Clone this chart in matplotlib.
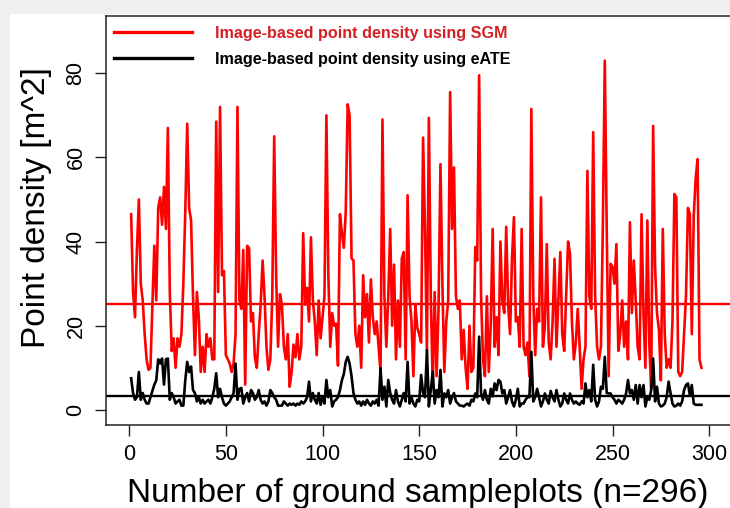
import matplotlib
matplotlib.use("Agg")
import matplotlib.pyplot as plt
from matplotlib import font_manager
from matplotlib.patches import Rectangle
from matplotlib.lines import Line2D

# data (plot index 1..296)
sgm_density = [
    46.5, 28, 22, 38, 50, 30, 26, 18, 12, 9.5,
    10, 25, 39, 26, 48, 50.5, 44, 53, 43, 67,
    28, 14, 17, 10, 17, 15, 18, 30, 47, 68,
    48, 45, 27, 13, 28, 22, 9, 15, 9, 18,
    15, 17, 12, 12, 68.5, 28, 72, 32, 33, 13,
    12, 11, 9, 11, 18, 72, 26, 24, 38, 6,
    39, 38.5, 21, 23, 12.5, 10, 18, 25, 35.5, 27,
    15, 9.5, 12, 27, 65, 32, 15, 27.5, 25, 15,
    12, 18, 5.5, 9, 15.5, 12.5, 18, 12, 15, 42,
    25, 29, 21, 41, 26, 21, 13, 26, 17, 22,
    27, 70, 32, 15, 23, 20, 20.5, 10.5, 46.5, 42,
    38.5, 47, 72.6, 70, 36, 35.5, 18, 15, 20, 10,
    32, 22, 27.5, 16, 31, 22, 18, 21, 15, 9,
    69, 27, 15, 27, 43, 20, 34.5, 12, 26, 15,
    36, 37.5, 12, 51, 27, 21, 8, 25, 19.5, 18,
    16, 64.7, 43, 14, 69.4, 27, 5.5, 28, 8, 24,
    58.4, 30, 9, 21, 26, 75.5, 43, 57.6, 27, 24,
    26, 12, 19, 10, 5, 20, 9, 10, 38.7, 35.5,
    79.5, 27, 12, 8, 27, 9, 20, 43, 15, 22,
    13, 40, 26, 23, 43.5, 25, 18, 36, 45.8, 21,
    22, 15, 43, 15, 13, 16, 8, 71.5, 27, 13,
    24, 21, 50.5, 15, 20, 39.4, 16, 12, 21, 35.9,
    15, 26, 37.5, 18, 14, 27, 40, 37, 21, 12,
    16, 24, 15, 5, 12, 15, 56.8, 27, 24, 66,
    27, 15, 12, 15, 44, 83, 43, 8, 34.7, 34,
    30, 39.4, 14, 18, 26, 15, 21, 12, 44.6, 23,
    35.5, 26, 15, 12, 46.5, 23, 10, 45, 16, 5,
    67.5, 34, 23, 19, 7, 43, 18, 10, 12, 10,
    21, 51.3, 50.5, 9, 8, 9, 18, 27, 48, 46.5,
    18, 46, 55, 59.6, 12, 10,
]
eate_density = [
    7.5, 4, 2.4, 3, 9, 2.4, 4, 2.4, 1.5, 1.5,
    3, 4.5, 6, 7, 12, 11, 12.2, 6, 12, 12.2,
    2.4, 4, 3, 1.5, 2, 2.4, 1, 1, 7, 11.4,
    9, 10.3, 4.7, 4, 2, 3, 1.5, 2.4, 1.5, 2,
    2.4, 1.5, 3, 5, 8.7, 3, 5, 3, 1.5, 1,
    1.5, 2, 3, 4, 11, 2.4, 5, 5.2, 1.5, 3,
    4, 2, 4.7, 4, 2.4, 3, 4.7, 2.4, 1.5, 2,
    1, 2, 4.7, 4, 3, 2.4, 1, 1, 1, 2,
    1.5, 1, 1.5, 1.2, 1.5, 1, 1.5, 1.2, 2, 1.5,
    2, 3, 6.7, 2, 4, 2.4, 1.5, 4, 1.2, 3,
    1.5, 7.1, 3, 4.7, 0.8, 2, 2.4, 3, 4.7, 7,
    8.5, 11.4, 12.6, 11, 8, 4, 2.4, 1.5, 2, 1,
    2, 1.2, 2.4, 1.5, 1, 2, 1.5, 2.4, 1, 9.9,
    2.4, 5.5, 0.8, 7.1, 4, 2.4, 1.5, 4.7, 2, 0.8,
    2.4, 4, 2, 11.4, 1.5, 3, 1.5, 0.8, 2.4, 2,
    8.3, 4, 3, 14.2, 0.8, 4.7, 9.1, 1.5, 4.7, 3,
    9.5, 0.8, 3.9, 3, 4.7, 1.5, 3, 4, 2, 1.5,
    1, 1, 0.8, 1.2, 1.5, 1, 2.4, 2, 3.9, 3,
    17.4, 3.9, 2.4, 4.7, 2.4, 1.5, 5, 3.2, 6.3, 4.7,
    7.1, 6.7, 3.9, 4.7, 1.5, 3, 4.7, 2, 0.8, 2.4,
    5, 0.8, 1.5, 1.5, 2.4, 3, 3, 13.8, 2, 3,
    5, 3, 0.8, 2, 3.9, 2.4, 1.5, 4.5, 3, 2,
    4.7, 2.4, 0.8, 1.5, 3.9, 2.4, 1.5, 3.9, 2.4, 1.5,
    2, 1.5, 1.2, 2, 1.5, 6.3, 3, 4.7, 2, 10.7,
    2.4, 0.8, 2, 5.5, 5, 12.6, 4, 3.9, 3.9, 3,
    2.4, 1.5, 2.4, 2, 1.5, 2.4, 3.9, 7.1, 3.9, 4.7,
    2.4, 5.9, 1.5, 5.9, 3, 5.9, 0.8, 3, 2.4, 4.7,
    12.2, 2, 5.5, 1.5, 0.8, 1, 1.5, 3, 6.7, 4,
    1.5, 0.8, 1, 1.5, 1, 2, 4.7, 5.9, 6.3, 3.5,
    5.9, 1.5, 1.2, 1.2, 1.2, 1.2,
]
sgm_mean = 25.2
eate_mean = 3.3
plot_index = list(range(1, len(sgm_density) + 1))

x_ticks = [0, 50, 100, 150, 200, 250, 300]
y_ticks = [0, 20, 40, 60, 80]
legend_labels = ["Image-based point density using SGM",
                 "Image-based point density using eATE"]

# fonts
installed = {f.name for f in font_manager.fontManager.ttflist}
if "Liberation Sans Narrow" in installed:
    leg_family, leg_size = "Liberation Sans Narrow", 14.6
else:
    leg_family, leg_size = "Liberation Sans", 11.6
plt.rcParams["font.family"] = ["Liberation Sans", "DejaVu Sans"]

W, H = 730, 508
fig = plt.figure(figsize=(W / 100, H / 100), dpi=100, facecolor="#efefef")

# white panel behind the plot (the screenshot crop)
fig.patches.append(Rectangle((10 / W, 0), 1, (H - 14) / H, transform=fig.transFigure,
                             facecolor="white", edgecolor="none", zorder=-5))

ax = fig.add_axes([106 / W, (H - 425) / H, 626.4 / W, 409 / H])
ax.set_zorder(2)
ax.set_facecolor("white")

ax.plot(plot_index, sgm_density, color="#ff0000", lw=1.9, zorder=3)
ax.plot(plot_index, eate_density, color="black", lw=1.9, zorder=4)
ax.axhline(sgm_mean, color="#ff0000", lw=1.7, zorder=2)
ax.axhline(eate_mean, color="black", lw=1.7, zorder=2)

ax.set_xlim(-12, 312)
ax.set_ylim(-3.6, 93.6)
ax.set_xticks(x_ticks)
ax.set_yticks(y_ticks)
ax.set_xticklabels([str(v) for v in x_ticks])
ax.set_yticklabels([str(v) for v in y_ticks], rotation=90, va="center")
ax.tick_params(axis="both", direction="out", length=8, width=1.0,
               labelsize=15.5, color="#222222")
ax.tick_params(axis="x", pad=6)
ax.tick_params(axis="y", pad=6)
for sp in ax.spines.values():
    sp.set_linewidth(1.1)
    sp.set_color("#222222")

fig.text(418 / W, (H - 502) / H, "Number of ground sampleplots (n=296)",
         fontsize=24, ha="center", va="baseline", zorder=3)
fig.text(37 / W, (H - 208) / H, "Point density [m^2]",
         fontsize=24, rotation=90, ha="center", va="center", zorder=3)

handles = [Line2D([0], [0], color="#ff0000", lw=2.4),
           Line2D([0], [0], color="black", lw=2.4)]
leg = ax.legend(handles, legend_labels, loc="upper left",
                bbox_to_anchor=((114 - 106) / 626.4, (425 - 26) / 409),
                frameon=False, borderpad=0, borderaxespad=0,
                handlelength=78 / (leg_size * 1.389), handletextpad=23 / (leg_size * 1.389),
                labelspacing=0.66,
                prop={"family": leg_family, "weight": "bold", "size": leg_size})
leg.get_texts()[0].set_color("#d42025")
leg.get_texts()[1].set_color("black")

fig.savefig("out.png", dpi=100, facecolor=fig.get_facecolor())
